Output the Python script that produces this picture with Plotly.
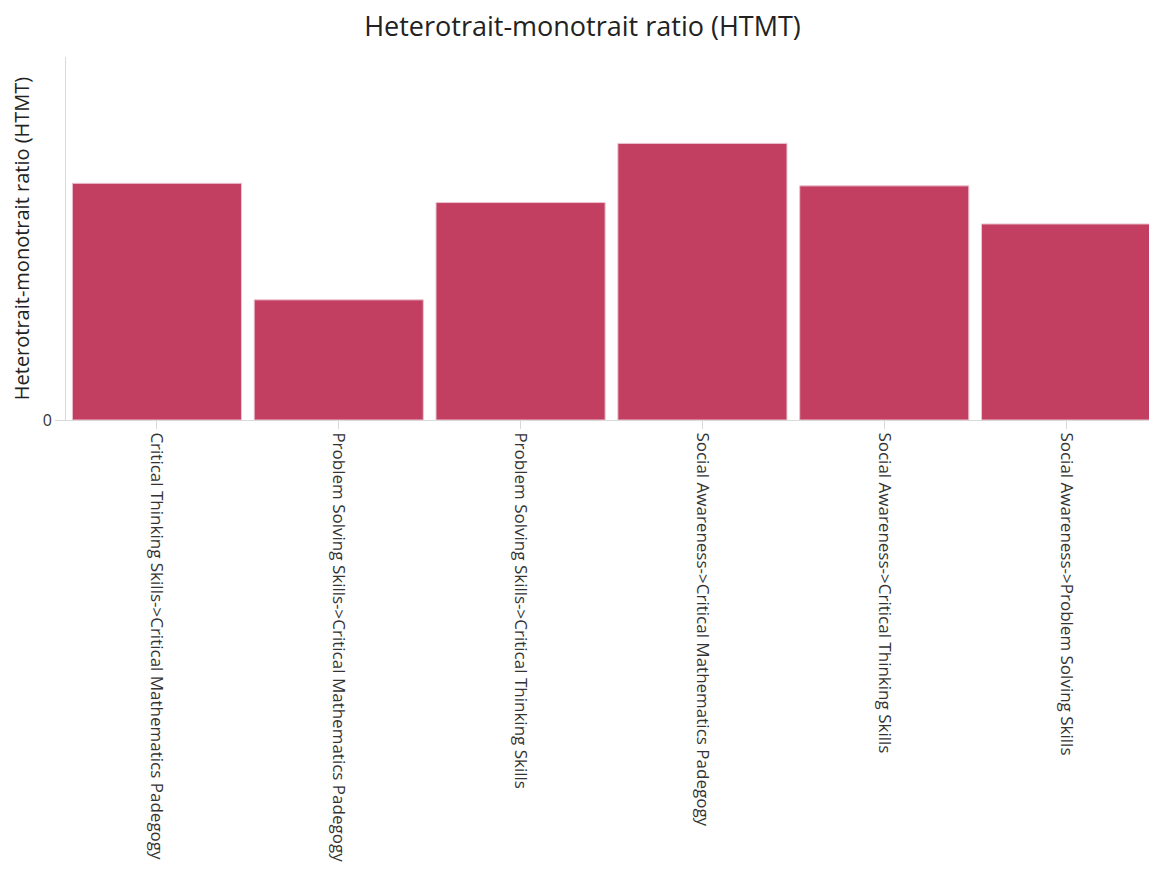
import plotly.graph_objects as go

categories = [
    "Critical Thinking Skills->Critical Mathematics Padegogy",
    "Problem Solving Skills->Critical Mathematics Padegogy",
    "Problem Solving Skills->Critical Thinking Skills",
    "Social Awareness->Critical Mathematics Padegogy",
    "Social Awareness->Critical Thinking Skills",
    "Social Awareness->Problem Solving Skills",
]
htmt_values = [0.652, 0.331, 0.599, 0.762, 0.645, 0.540]

fig = go.Figure(go.Bar(
    x=categories,
    y=htmt_values,
    marker=dict(color="#C33F62", line=dict(color="#EBC3CF", width=1)),
))

fig.update_layout(
    width=1149, height=865,
    margin=dict(l=58, r=0, t=49, b=453),
    paper_bgcolor="white", plot_bgcolor="white",
    font=dict(family="Open Sans, Noto Sans, sans-serif", color="#222222"),
    title=dict(text="Heterotrait-monotrait ratio (HTMT)", x=0.5, xanchor="center",
               y=0.979, yanchor="middle", font=dict(size=27, color="#222222")),
    bargap=0.07,
    showlegend=False,
)
fig.update_xaxes(
    tickangle=90, tickfont=dict(size=17, color="#333333"),
    showline=True, linecolor="#D9D9D9", linewidth=1,
    ticks="outside", tickcolor="#D9D9D9", ticklen=8,
    showgrid=False,
)
fig.update_yaxes(
    range=[0, 1], tickvals=[0], ticktext=["0"],
    tickfont=dict(size=16, color="#333333"),
    title=dict(text="Heterotrait-monotrait ratio (HTMT)", font=dict(size=20, color="#222222"), standoff=12),
    showline=True, linecolor="#D9D9D9", linewidth=1,
    ticks="outside", tickcolor="#D9D9D9", ticklen=10,
    showgrid=False, zeroline=False,
)

fig.write_html("out.html")
